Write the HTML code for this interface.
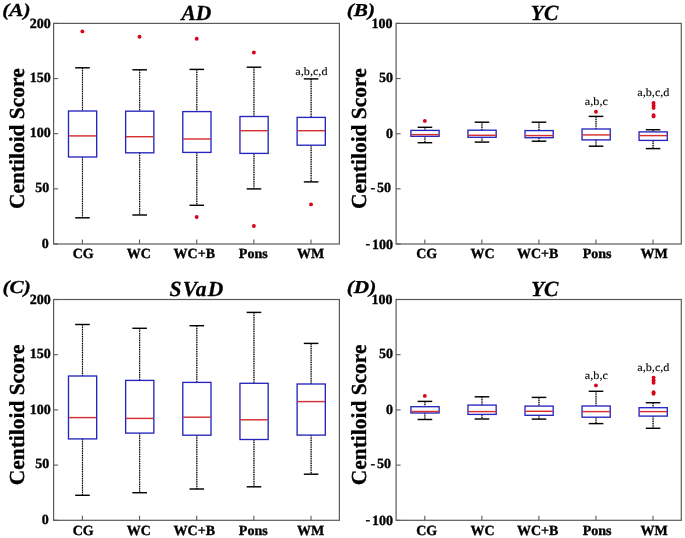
<!DOCTYPE html>
<html><head><meta charset="utf-8"><title>Centiloid Score box plots</title><style>
html,body{margin:0;padding:0;background:#fff;overflow:hidden;}
svg{display:block;will-change:transform;}
text{font-family:"Liberation Serif",serif;fill:#000;text-rendering:geometricPrecision;}
.yt{font-weight:bold;font-size:14px;text-anchor:end;stroke:#000;stroke-width:0.35;}
.ytm{font-weight:bold;font-size:14px;stroke:#000;stroke-width:0.25;}
.xt{font-weight:bold;font-size:14px;text-anchor:middle;stroke:#000;stroke-width:0.35;}
.ttl{font-weight:bold;font-style:italic;font-size:21.5px;text-anchor:middle;stroke:#000;stroke-width:0.3;}
.pl{font-weight:bold;font-style:italic;font-size:18.3px;stroke:#000;stroke-width:0.3;}
.yl{font-weight:bold;font-size:21.45px;text-anchor:middle;stroke:#000;stroke-width:0.3;}
.ann{font-size:11.3px;text-anchor:middle;stroke:#000;stroke-width:0.1;}
.wh{stroke:#000;stroke-width:1.2;stroke-dasharray:1.25 1.05;}
.wu{stroke:#a8a8a8;stroke-width:1;}
.cap{stroke:#000;stroke-width:1.45;}
.bx{fill:none;stroke:#2626bc;stroke-width:1.35;}
.md{stroke:#d43030;stroke-width:1.45;}
</style></head><body>
<svg width="685" height="538" viewBox="0 0 685 538">
<rect width="685" height="538" fill="#fff"/>
<g>
<rect x="53.6" y="23.4" width="285.8" height="220.6" fill="none" stroke="#5a5a5a" stroke-width="1.2"/>
<line x1="53.6" y1="23.4" x2="58.1" y2="23.4" stroke="#5a5a5a" stroke-width="1.1"/>
<text class="yt" x="50.8" y="28">200</text>
<line x1="53.6" y1="78.55" x2="58.1" y2="78.55" stroke="#5a5a5a" stroke-width="1.1"/>
<text class="yt" x="50.8" y="81.9">150</text>
<line x1="53.6" y1="133.7" x2="58.1" y2="133.7" stroke="#5a5a5a" stroke-width="1.1"/>
<text class="yt" x="50.8" y="137.3">100</text>
<line x1="53.6" y1="188.85" x2="58.1" y2="188.85" stroke="#5a5a5a" stroke-width="1.1"/>
<text class="yt" x="49.3" y="192">50</text>
<line x1="53.6" y1="244" x2="58.1" y2="244" stroke="#5a5a5a" stroke-width="1.1"/>
<text class="yt" x="48.8" y="247.9">0</text>
<line x1="82.38" y1="244" x2="82.38" y2="239.5" stroke="#5a5a5a" stroke-width="1.1"/>
<text class="xt" x="83.18" y="258.4">CG</text>
<line x1="139.54" y1="244" x2="139.54" y2="239.5" stroke="#5a5a5a" stroke-width="1.1"/>
<text class="xt" x="138.84" y="258.4">WC</text>
<line x1="196.7" y1="244" x2="196.7" y2="239.5" stroke="#5a5a5a" stroke-width="1.1"/>
<text class="xt" x="194.3" y="258.4">WC+B</text>
<line x1="253.86" y1="244" x2="253.86" y2="239.5" stroke="#5a5a5a" stroke-width="1.1"/>
<text class="xt" x="253.26" y="258.4">Pons</text>
<line x1="311.02" y1="244" x2="311.02" y2="239.5" stroke="#5a5a5a" stroke-width="1.1"/>
<text class="xt" x="310.62" y="258.4">WM</text>
<line class="wu" x1="82.48" y1="67.8" x2="82.48" y2="111"/>
<line class="wu" x1="82.48" y1="157" x2="82.48" y2="217.8"/>
<line class="wh" x1="82.48" y1="67.8" x2="82.48" y2="111"/>
<line class="wh" x1="82.48" y1="157" x2="82.48" y2="217.8"/>
<line class="cap" x1="75.18" y1="67.8" x2="89.78" y2="67.8"/>
<line class="cap" x1="75.18" y1="217.8" x2="89.78" y2="217.8"/>
<rect class="bx" x="68.48" y="111" width="28.2" height="46"/>
<line class="md" x1="68.78" y1="135.9" x2="96.38" y2="135.9"/>
<circle cx="82.38" cy="31.4" r="1.95" fill="#da0418"/>
<line class="wu" x1="139.64" y1="69.8" x2="139.64" y2="111.2"/>
<line class="wu" x1="139.64" y1="152.8" x2="139.64" y2="215"/>
<line class="wh" x1="139.64" y1="69.8" x2="139.64" y2="111.2"/>
<line class="wh" x1="139.64" y1="152.8" x2="139.64" y2="215"/>
<line class="cap" x1="132.34" y1="69.8" x2="146.94" y2="69.8"/>
<line class="cap" x1="132.34" y1="215" x2="146.94" y2="215"/>
<rect class="bx" x="125.64" y="111.2" width="28.2" height="41.6"/>
<line class="md" x1="125.94" y1="136.7" x2="153.54" y2="136.7"/>
<circle cx="139.54" cy="36.7" r="1.95" fill="#da0418"/>
<line class="wu" x1="196.8" y1="69.4" x2="196.8" y2="111.6"/>
<line class="wu" x1="196.8" y1="152.4" x2="196.8" y2="205.3"/>
<line class="wh" x1="196.8" y1="69.4" x2="196.8" y2="111.6"/>
<line class="wh" x1="196.8" y1="152.4" x2="196.8" y2="205.3"/>
<line class="cap" x1="189.5" y1="69.4" x2="204.1" y2="69.4"/>
<line class="cap" x1="189.5" y1="205.3" x2="204.1" y2="205.3"/>
<rect class="bx" x="182.8" y="111.6" width="28.2" height="40.8"/>
<line class="md" x1="183.1" y1="139" x2="210.7" y2="139"/>
<circle cx="196.7" cy="38.7" r="1.95" fill="#da0418"/>
<circle cx="196.7" cy="217" r="1.95" fill="#da0418"/>
<line class="wu" x1="253.96" y1="67.2" x2="253.96" y2="116.5"/>
<line class="wu" x1="253.96" y1="153.4" x2="253.96" y2="188.9"/>
<line class="wh" x1="253.96" y1="67.2" x2="253.96" y2="116.5"/>
<line class="wh" x1="253.96" y1="153.4" x2="253.96" y2="188.9"/>
<line class="cap" x1="246.66" y1="67.2" x2="261.26" y2="67.2"/>
<line class="cap" x1="246.66" y1="188.9" x2="261.26" y2="188.9"/>
<rect class="bx" x="239.96" y="116.5" width="28.2" height="36.9"/>
<line class="md" x1="240.26" y1="130.7" x2="267.86" y2="130.7"/>
<circle cx="253.86" cy="52.5" r="1.95" fill="#da0418"/>
<circle cx="253.86" cy="226" r="1.95" fill="#da0418"/>
<line class="wu" x1="311.12" y1="78.9" x2="311.12" y2="117.4"/>
<line class="wu" x1="311.12" y1="145.2" x2="311.12" y2="181.9"/>
<line class="wh" x1="311.12" y1="78.9" x2="311.12" y2="117.4"/>
<line class="wh" x1="311.12" y1="145.2" x2="311.12" y2="181.9"/>
<line class="cap" x1="303.82" y1="78.9" x2="318.42" y2="78.9"/>
<line class="cap" x1="303.82" y1="181.9" x2="318.42" y2="181.9"/>
<rect class="bx" x="297.12" y="117.4" width="28.2" height="27.8"/>
<line class="md" x1="297.42" y1="130.7" x2="325.02" y2="130.7"/>
<circle cx="311.02" cy="204.4" r="1.95" fill="#da0418"/>
<text class="ann" transform="translate(311.42 74.9) scale(1.08 1)">a,b,c,d</text>
<text class="ttl" x="196.4" y="19.9">AD</text>
<text class="pl" transform="translate(2.3 15.8) scale(1.16 1)">(A)</text>
<text class="yl" transform="translate(23.7 138.7) rotate(-90)">Centiloid Score</text>
</g>
<g>
<rect x="396.1" y="23.4" width="285.2" height="220.6" fill="none" stroke="#5a5a5a" stroke-width="1.2"/>
<line x1="396.1" y1="23.4" x2="400.6" y2="23.4" stroke="#5a5a5a" stroke-width="1.1"/>
<text class="yt" x="392.6" y="28">100</text>
<line x1="396.1" y1="78.55" x2="400.6" y2="78.55" stroke="#5a5a5a" stroke-width="1.1"/>
<text class="yt" x="392.9" y="81.9">50</text>
<line x1="396.1" y1="133.7" x2="400.6" y2="133.7" stroke="#5a5a5a" stroke-width="1.1"/>
<text class="yt" x="392.9" y="137.5">0</text>
<line x1="396.1" y1="188.85" x2="400.6" y2="188.85" stroke="#5a5a5a" stroke-width="1.1"/>
<text class="yt" x="391.1" y="192.1">50</text>
<text class="ytm" x="370.6" y="191.6">-</text>
<line x1="396.1" y1="244" x2="400.6" y2="244" stroke="#5a5a5a" stroke-width="1.1"/>
<text class="yt" x="393.1" y="248.6">100</text>
<text class="ytm" x="365.6" y="248.1">-</text>
<line x1="424.82" y1="244" x2="424.82" y2="239.5" stroke="#5a5a5a" stroke-width="1.1"/>
<text class="xt" x="426.72" y="258.4">CG</text>
<line x1="481.86" y1="244" x2="481.86" y2="239.5" stroke="#5a5a5a" stroke-width="1.1"/>
<text class="xt" x="482.56" y="258.4">WC</text>
<line x1="538.9" y1="244" x2="538.9" y2="239.5" stroke="#5a5a5a" stroke-width="1.1"/>
<text class="xt" x="537.7" y="258.4">WC+B</text>
<line x1="595.94" y1="244" x2="595.94" y2="239.5" stroke="#5a5a5a" stroke-width="1.1"/>
<text class="xt" x="597.04" y="258.4">Pons</text>
<line x1="652.98" y1="244" x2="652.98" y2="239.5" stroke="#5a5a5a" stroke-width="1.1"/>
<text class="xt" x="654.18" y="258.4">WM</text>
<line class="wu" x1="424.92" y1="127.3" x2="424.92" y2="130.4"/>
<line class="wu" x1="424.92" y1="136.3" x2="424.92" y2="142.7"/>
<line class="wh" x1="424.92" y1="127.3" x2="424.92" y2="130.4"/>
<line class="wh" x1="424.92" y1="136.3" x2="424.92" y2="142.7"/>
<line class="cap" x1="417.62" y1="127.3" x2="432.22" y2="127.3"/>
<line class="cap" x1="417.62" y1="142.7" x2="432.22" y2="142.7"/>
<rect class="bx" x="410.92" y="130.4" width="28.2" height="5.9"/>
<line class="md" x1="411.22" y1="134.6" x2="438.82" y2="134.6"/>
<circle cx="424.82" cy="120.9" r="1.95" fill="#da0418"/>
<line class="wu" x1="481.96" y1="122.2" x2="481.96" y2="130.2"/>
<line class="wu" x1="481.96" y1="137.3" x2="481.96" y2="142.1"/>
<line class="wh" x1="481.96" y1="122.2" x2="481.96" y2="130.2"/>
<line class="wh" x1="481.96" y1="137.3" x2="481.96" y2="142.1"/>
<line class="cap" x1="474.66" y1="122.2" x2="489.26" y2="122.2"/>
<line class="cap" x1="474.66" y1="142.1" x2="489.26" y2="142.1"/>
<rect class="bx" x="467.96" y="130.2" width="28.2" height="7.1"/>
<line class="md" x1="468.26" y1="135.3" x2="495.86" y2="135.3"/>
<line class="wu" x1="539" y1="122.2" x2="539" y2="130.6"/>
<line class="wu" x1="539" y1="137.7" x2="539" y2="141.2"/>
<line class="wh" x1="539" y1="122.2" x2="539" y2="130.6"/>
<line class="wh" x1="539" y1="137.7" x2="539" y2="141.2"/>
<line class="cap" x1="531.7" y1="122.2" x2="546.3" y2="122.2"/>
<line class="cap" x1="531.7" y1="141.2" x2="546.3" y2="141.2"/>
<rect class="bx" x="525" y="130.6" width="28.2" height="7.1"/>
<line class="md" x1="525.3" y1="135.6" x2="552.9" y2="135.6"/>
<line class="wu" x1="596.04" y1="116.4" x2="596.04" y2="129"/>
<line class="wu" x1="596.04" y1="139.9" x2="596.04" y2="146.2"/>
<line class="wh" x1="596.04" y1="116.4" x2="596.04" y2="129"/>
<line class="wh" x1="596.04" y1="139.9" x2="596.04" y2="146.2"/>
<line class="cap" x1="588.74" y1="116.4" x2="603.34" y2="116.4"/>
<line class="cap" x1="588.74" y1="146.2" x2="603.34" y2="146.2"/>
<rect class="bx" x="582.04" y="129" width="28.2" height="10.9"/>
<line class="md" x1="582.34" y1="134.9" x2="609.94" y2="134.9"/>
<circle cx="595.94" cy="111.8" r="1.95" fill="#da0418"/>
<text class="ann" transform="translate(596.34 105.4) scale(1.08 1)">a,b,c</text>
<line class="wu" x1="653.08" y1="129.7" x2="653.08" y2="131.9"/>
<line class="wu" x1="653.08" y1="140.4" x2="653.08" y2="148.6"/>
<line class="wh" x1="653.08" y1="129.7" x2="653.08" y2="131.9"/>
<line class="wh" x1="653.08" y1="140.4" x2="653.08" y2="148.6"/>
<line class="cap" x1="645.78" y1="129.7" x2="660.38" y2="129.7"/>
<line class="cap" x1="645.78" y1="148.6" x2="660.38" y2="148.6"/>
<rect class="bx" x="639.08" y="131.9" width="28.2" height="8.5"/>
<line class="md" x1="639.38" y1="135.6" x2="666.98" y2="135.6"/>
<circle cx="653.58" cy="102.9" r="1.95" fill="#da0418"/>
<circle cx="653.58" cy="105.4" r="1.95" fill="#da0418"/>
<circle cx="653.58" cy="107.9" r="1.95" fill="#da0418"/>
<circle cx="653.58" cy="115.1" r="1.95" fill="#da0418"/>
<circle cx="653.58" cy="116.4" r="1.95" fill="#da0418"/>
<text class="ann" transform="translate(653.38 96.4) scale(1.08 1)">a,b,c,d</text>
<text class="ttl" x="544.6" y="19.9">YC</text>
<text class="pl" transform="translate(346.8 15.8) scale(1.16 1)">(B)</text>
<text class="yl" transform="translate(366.2 138.7) rotate(-90)">Centiloid Score</text>
</g>
<g>
<rect x="53.6" y="299.5" width="285.8" height="220.8" fill="none" stroke="#5a5a5a" stroke-width="1.2"/>
<line x1="53.6" y1="299.5" x2="58.1" y2="299.5" stroke="#5a5a5a" stroke-width="1.1"/>
<text class="yt" x="50.8" y="304.3">200</text>
<line x1="53.6" y1="354.7" x2="58.1" y2="354.7" stroke="#5a5a5a" stroke-width="1.1"/>
<text class="yt" x="50.8" y="358.2">150</text>
<line x1="53.6" y1="409.9" x2="58.1" y2="409.9" stroke="#5a5a5a" stroke-width="1.1"/>
<text class="yt" x="50.8" y="413.6">100</text>
<line x1="53.6" y1="465.1" x2="58.1" y2="465.1" stroke="#5a5a5a" stroke-width="1.1"/>
<text class="yt" x="49.3" y="468.3">50</text>
<line x1="53.6" y1="520.3" x2="58.1" y2="520.3" stroke="#5a5a5a" stroke-width="1.1"/>
<text class="yt" x="48.8" y="524.2">0</text>
<line x1="82.38" y1="520.3" x2="82.38" y2="515.8" stroke="#5a5a5a" stroke-width="1.1"/>
<text class="xt" x="83.18" y="534.7">CG</text>
<line x1="139.54" y1="520.3" x2="139.54" y2="515.8" stroke="#5a5a5a" stroke-width="1.1"/>
<text class="xt" x="138.84" y="534.7">WC</text>
<line x1="196.7" y1="520.3" x2="196.7" y2="515.8" stroke="#5a5a5a" stroke-width="1.1"/>
<text class="xt" x="194.3" y="534.7">WC+B</text>
<line x1="253.86" y1="520.3" x2="253.86" y2="515.8" stroke="#5a5a5a" stroke-width="1.1"/>
<text class="xt" x="253.26" y="534.7">Pons</text>
<line x1="311.02" y1="520.3" x2="311.02" y2="515.8" stroke="#5a5a5a" stroke-width="1.1"/>
<text class="xt" x="310.62" y="534.7">WM</text>
<line class="wu" x1="82.48" y1="324.5" x2="82.48" y2="376"/>
<line class="wu" x1="82.48" y1="438.9" x2="82.48" y2="495.3"/>
<line class="wh" x1="82.48" y1="324.5" x2="82.48" y2="376"/>
<line class="wh" x1="82.48" y1="438.9" x2="82.48" y2="495.3"/>
<line class="cap" x1="75.18" y1="324.5" x2="89.78" y2="324.5"/>
<line class="cap" x1="75.18" y1="495.3" x2="89.78" y2="495.3"/>
<rect class="bx" x="68.48" y="376" width="28.2" height="62.9"/>
<line class="md" x1="68.78" y1="417.6" x2="96.38" y2="417.6"/>
<line class="wu" x1="139.64" y1="328.3" x2="139.64" y2="380.4"/>
<line class="wu" x1="139.64" y1="433.1" x2="139.64" y2="492.7"/>
<line class="wh" x1="139.64" y1="328.3" x2="139.64" y2="380.4"/>
<line class="wh" x1="139.64" y1="433.1" x2="139.64" y2="492.7"/>
<line class="cap" x1="132.34" y1="328.3" x2="146.94" y2="328.3"/>
<line class="cap" x1="132.34" y1="492.7" x2="146.94" y2="492.7"/>
<rect class="bx" x="125.64" y="380.4" width="28.2" height="52.7"/>
<line class="md" x1="125.94" y1="418.4" x2="153.54" y2="418.4"/>
<line class="wu" x1="196.8" y1="325.7" x2="196.8" y2="382.4"/>
<line class="wu" x1="196.8" y1="435.2" x2="196.8" y2="489"/>
<line class="wh" x1="196.8" y1="325.7" x2="196.8" y2="382.4"/>
<line class="wh" x1="196.8" y1="435.2" x2="196.8" y2="489"/>
<line class="cap" x1="189.5" y1="325.7" x2="204.1" y2="325.7"/>
<line class="cap" x1="189.5" y1="489" x2="204.1" y2="489"/>
<rect class="bx" x="182.8" y="382.4" width="28.2" height="52.8"/>
<line class="md" x1="183.1" y1="417.2" x2="210.7" y2="417.2"/>
<line class="wu" x1="253.96" y1="312.4" x2="253.96" y2="383.3"/>
<line class="wu" x1="253.96" y1="439.5" x2="253.96" y2="486.8"/>
<line class="wh" x1="253.96" y1="312.4" x2="253.96" y2="383.3"/>
<line class="wh" x1="253.96" y1="439.5" x2="253.96" y2="486.8"/>
<line class="cap" x1="246.66" y1="312.4" x2="261.26" y2="312.4"/>
<line class="cap" x1="246.66" y1="486.8" x2="261.26" y2="486.8"/>
<rect class="bx" x="239.96" y="383.3" width="28.2" height="56.2"/>
<line class="md" x1="240.26" y1="419.8" x2="267.86" y2="419.8"/>
<line class="wu" x1="311.12" y1="343.4" x2="311.12" y2="384"/>
<line class="wu" x1="311.12" y1="435.1" x2="311.12" y2="474.2"/>
<line class="wh" x1="311.12" y1="343.4" x2="311.12" y2="384"/>
<line class="wh" x1="311.12" y1="435.1" x2="311.12" y2="474.2"/>
<line class="cap" x1="303.82" y1="343.4" x2="318.42" y2="343.4"/>
<line class="cap" x1="303.82" y1="474.2" x2="318.42" y2="474.2"/>
<rect class="bx" x="297.12" y="384" width="28.2" height="51.1"/>
<line class="md" x1="297.42" y1="401.6" x2="325.02" y2="401.6"/>
<text class="ttl" x="197" y="296" letter-spacing="1.2">SVaD</text>
<text class="pl" transform="translate(2.5 292.5) scale(1.16 1)">(C)</text>
<text class="yl" transform="translate(23.7 414.9) rotate(-90)">Centiloid Score</text>
</g>
<g>
<rect x="396.1" y="299.5" width="285.2" height="220.8" fill="none" stroke="#5a5a5a" stroke-width="1.2"/>
<line x1="396.1" y1="299.5" x2="400.6" y2="299.5" stroke="#5a5a5a" stroke-width="1.1"/>
<text class="yt" x="392.6" y="304.3">100</text>
<line x1="396.1" y1="354.7" x2="400.6" y2="354.7" stroke="#5a5a5a" stroke-width="1.1"/>
<text class="yt" x="392.9" y="358.2">50</text>
<line x1="396.1" y1="409.9" x2="400.6" y2="409.9" stroke="#5a5a5a" stroke-width="1.1"/>
<text class="yt" x="392.9" y="413.8">0</text>
<line x1="396.1" y1="465.1" x2="400.6" y2="465.1" stroke="#5a5a5a" stroke-width="1.1"/>
<text class="yt" x="391.1" y="468.4">50</text>
<text class="ytm" x="370.6" y="467.9">-</text>
<line x1="396.1" y1="520.3" x2="400.6" y2="520.3" stroke="#5a5a5a" stroke-width="1.1"/>
<text class="yt" x="393.1" y="524.9">100</text>
<text class="ytm" x="365.6" y="524.4">-</text>
<line x1="424.82" y1="520.3" x2="424.82" y2="515.8" stroke="#5a5a5a" stroke-width="1.1"/>
<text class="xt" x="426.72" y="534.7">CG</text>
<line x1="481.86" y1="520.3" x2="481.86" y2="515.8" stroke="#5a5a5a" stroke-width="1.1"/>
<text class="xt" x="482.56" y="534.7">WC</text>
<line x1="538.9" y1="520.3" x2="538.9" y2="515.8" stroke="#5a5a5a" stroke-width="1.1"/>
<text class="xt" x="537.7" y="534.7">WC+B</text>
<line x1="595.94" y1="520.3" x2="595.94" y2="515.8" stroke="#5a5a5a" stroke-width="1.1"/>
<text class="xt" x="597.04" y="534.7">Pons</text>
<line x1="652.98" y1="520.3" x2="652.98" y2="515.8" stroke="#5a5a5a" stroke-width="1.1"/>
<text class="xt" x="654.18" y="534.7">WM</text>
<line class="wu" x1="424.92" y1="401.4" x2="424.92" y2="406.7"/>
<line class="wu" x1="424.92" y1="413" x2="424.92" y2="419.5"/>
<line class="wh" x1="424.92" y1="401.4" x2="424.92" y2="406.7"/>
<line class="wh" x1="424.92" y1="413" x2="424.92" y2="419.5"/>
<line class="cap" x1="417.62" y1="401.4" x2="432.22" y2="401.4"/>
<line class="cap" x1="417.62" y1="419.5" x2="432.22" y2="419.5"/>
<rect class="bx" x="410.92" y="406.7" width="28.2" height="6.3"/>
<line class="md" x1="411.22" y1="411.5" x2="438.82" y2="411.5"/>
<circle cx="424.82" cy="395.9" r="1.95" fill="#da0418"/>
<line class="wu" x1="481.96" y1="396.8" x2="481.96" y2="405.1"/>
<line class="wu" x1="481.96" y1="414.4" x2="481.96" y2="419"/>
<line class="wh" x1="481.96" y1="396.8" x2="481.96" y2="405.1"/>
<line class="wh" x1="481.96" y1="414.4" x2="481.96" y2="419"/>
<line class="cap" x1="474.66" y1="396.8" x2="489.26" y2="396.8"/>
<line class="cap" x1="474.66" y1="419" x2="489.26" y2="419"/>
<rect class="bx" x="467.96" y="405.1" width="28.2" height="9.3"/>
<line class="md" x1="468.26" y1="411.6" x2="495.86" y2="411.6"/>
<line class="wu" x1="539" y1="397.4" x2="539" y2="406.1"/>
<line class="wu" x1="539" y1="415.3" x2="539" y2="419.1"/>
<line class="wh" x1="539" y1="397.4" x2="539" y2="406.1"/>
<line class="wh" x1="539" y1="415.3" x2="539" y2="419.1"/>
<line class="cap" x1="531.7" y1="397.4" x2="546.3" y2="397.4"/>
<line class="cap" x1="531.7" y1="419.1" x2="546.3" y2="419.1"/>
<rect class="bx" x="525" y="406.1" width="28.2" height="9.2"/>
<line class="md" x1="525.3" y1="411.3" x2="552.9" y2="411.3"/>
<line class="wu" x1="596.04" y1="391.3" x2="596.04" y2="406"/>
<line class="wu" x1="596.04" y1="417.2" x2="596.04" y2="423.6"/>
<line class="wh" x1="596.04" y1="391.3" x2="596.04" y2="406"/>
<line class="wh" x1="596.04" y1="417.2" x2="596.04" y2="423.6"/>
<line class="cap" x1="588.74" y1="391.3" x2="603.34" y2="391.3"/>
<line class="cap" x1="588.74" y1="423.6" x2="603.34" y2="423.6"/>
<rect class="bx" x="582.04" y="406" width="28.2" height="11.2"/>
<line class="md" x1="582.34" y1="411.6" x2="609.94" y2="411.6"/>
<circle cx="595.94" cy="385.4" r="1.95" fill="#da0418"/>
<text class="ann" transform="translate(596.34 379.2) scale(1.08 1)">a,b,c</text>
<line class="wu" x1="653.08" y1="402.7" x2="653.08" y2="407.7"/>
<line class="wu" x1="653.08" y1="416.1" x2="653.08" y2="428.3"/>
<line class="wh" x1="653.08" y1="402.7" x2="653.08" y2="407.7"/>
<line class="wh" x1="653.08" y1="416.1" x2="653.08" y2="428.3"/>
<line class="cap" x1="645.78" y1="402.7" x2="660.38" y2="402.7"/>
<line class="cap" x1="645.78" y1="428.3" x2="660.38" y2="428.3"/>
<rect class="bx" x="639.08" y="407.7" width="28.2" height="8.4"/>
<line class="md" x1="639.38" y1="411.6" x2="666.98" y2="411.6"/>
<circle cx="653.58" cy="377.6" r="1.95" fill="#da0418"/>
<circle cx="653.58" cy="380.2" r="1.95" fill="#da0418"/>
<circle cx="653.58" cy="382.8" r="1.95" fill="#da0418"/>
<circle cx="653.58" cy="392.3" r="1.95" fill="#da0418"/>
<circle cx="653.58" cy="393.8" r="1.95" fill="#da0418"/>
<text class="ann" transform="translate(653.38 371.4) scale(1.08 1)">a,b,c,d</text>
<text class="ttl" x="544.7" y="296">YC</text>
<text class="pl" transform="translate(346.8 293.1) scale(1.16 1)">(D)</text>
<text class="yl" transform="translate(366.2 414.9) rotate(-90)">Centiloid Score</text>
</g>
</svg>
</body></html>
